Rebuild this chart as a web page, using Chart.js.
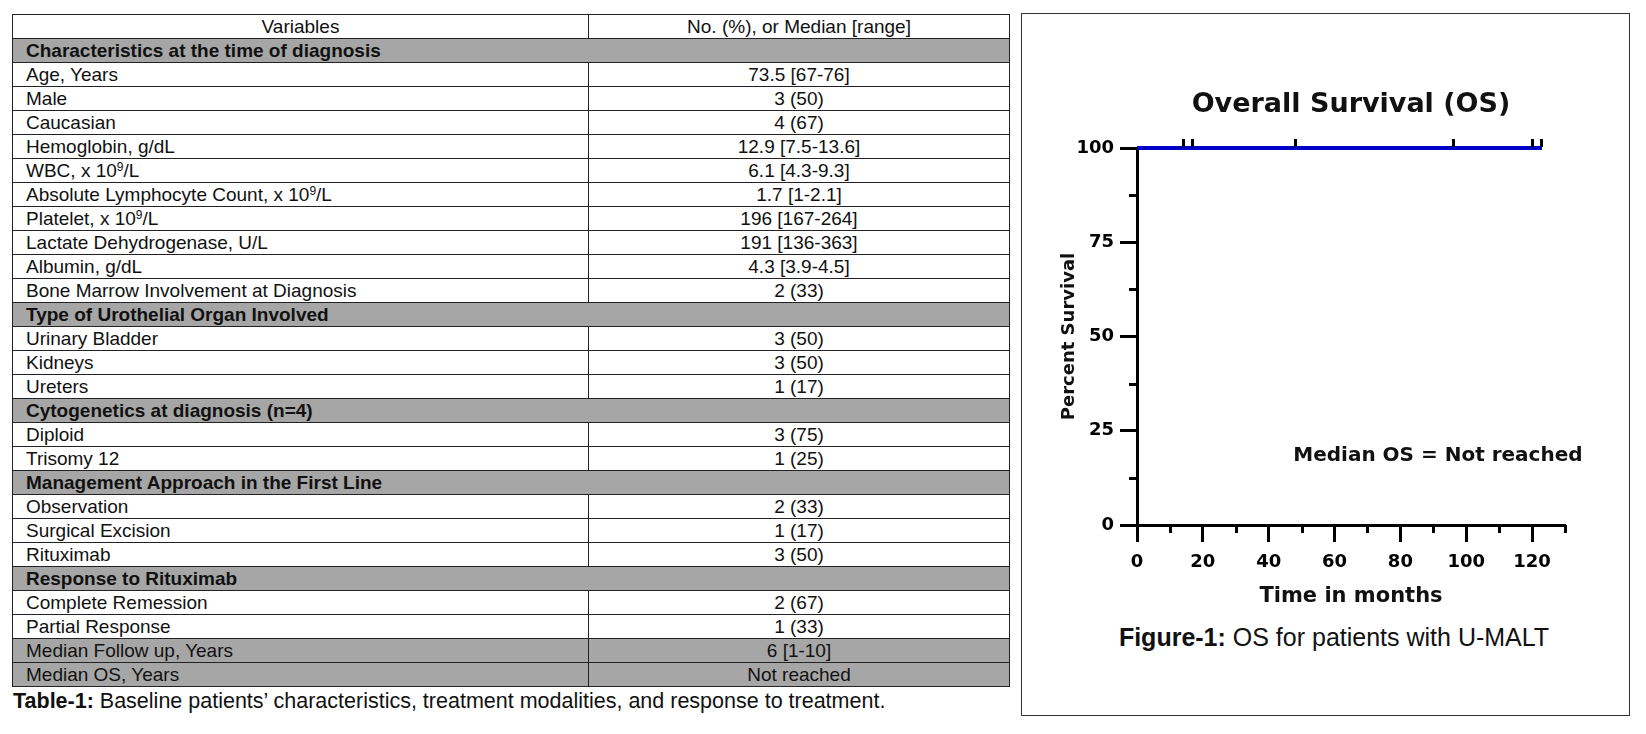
<!DOCTYPE html>
<html>
<head>
<meta charset="utf-8">
<script src="https://cdn.jsdelivr.net/npm/chart.js@4.4.0/dist/chart.umd.min.js"></script>
<style>
  body { margin: 0; background: #fff; width: 1646px; height: 734px; overflow: hidden; position: relative;
         font-family: "Liberation Sans", Arial, sans-serif; color: #111; }
  #tbl { position: absolute; left: 12px; top: 14px; width: 997px; border-collapse: collapse; table-layout: fixed; font-size: 19px; }
  #tbl td { border: 1.5px solid #222; padding: 0 0 0 13px; height: 23px; line-height: 22px; vertical-align: bottom; white-space: nowrap; overflow: hidden; }
  #tbl td.val { text-align: center; padding: 0; }
  #tbl tr.head td { text-align: center; padding: 0; }
  #tbl tr.section td, #tbl tr.summary td { background: #a6a6a6; }
  #tbl tr.section td { font-weight: bold; }
  sup { font-size: 12px; line-height: 0; vertical-align: 6px; }
  #tcap { position: absolute; left: 13px; top: 689px; font-size: 21.5px; color: #111; }
  #panel { position: absolute; left: 1021px; top: 13px; width: 609px; height: 703px; border: 1.5px solid #333; box-sizing: border-box; }
  #os { position: absolute; left: 1030px; top: 20px; }
  #fcap { position: absolute; left: 1021px; width: 626px; top: 623px; text-align: center; font-size: 25px; color: #111; }
</style>
</head>
<body>
<table id="tbl"><colgroup><col style="width:576px"><col style="width:421px"></colgroup><tbody></tbody></table>
<div id="tcap"><b>Table-1:</b> Baseline patients’ characteristics, treatment modalities, and response to treatment.</div>
<div id="panel"></div>
<canvas id="os" width="575" height="589"></canvas>
<div id="fcap"><b>Figure-1:</b> OS for patients with U-MALT</div>
<script>
// table content
const rowKinds = ['head', 'section', 'item', 'item', 'item', 'item', 'item', 'item', 'item', 'item', 'item', 'item',
  'section', 'item', 'item', 'item', 'section', 'item', 'item', 'section', 'item', 'item', 'item',
  'section', 'item', 'item', 'summary', 'summary'];
const rowLabels = ['Variables', 'Characteristics at the time of diagnosis', 'Age, Years', 'Male', 'Caucasian',
  'Hemoglobin, g/dL', 'WBC, x 10<sup>9</sup>/L', 'Absolute Lymphocyte Count, x 10<sup>9</sup>/L', 'Platelet, x 10<sup>9</sup>/L',
  'Lactate Dehydrogenase, U/L', 'Albumin, g/dL', 'Bone Marrow Involvement at Diagnosis',
  'Type of Urothelial Organ Involved', 'Urinary Bladder', 'Kidneys', 'Ureters',
  'Cytogenetics at diagnosis (n=4)', 'Diploid', 'Trisomy 12',
  'Management Approach in the First Line', 'Observation', 'Surgical Excision', 'Rituximab',
  'Response to Rituximab', 'Complete Remession', 'Partial Response',
  'Median Follow up, Years', 'Median OS, Years'];
const rowValues = ['No. (%), or Median [range]', '', '73.5 [67-76]', '3 (50)', '4 (67)',
  '12.9 [7.5-13.6]', '6.1 [4.3-9.3]', '1.7 [1-2.1]', '196 [167-264]',
  '191 [136-363]', '4.3 [3.9-4.5]', '2 (33)',
  '', '3 (50)', '3 (50)', '1 (17)',
  '', '3 (75)', '1 (25)',
  '', '2 (33)', '1 (17)', '3 (50)',
  '', '2 (67)', '1 (33)',
  '6 [1-10]', 'Not reached'];

// survival curve (months, percent)
const kmTime = [0, 14, 17, 48, 96, 120, 123];
const kmSurvival = [100, 100, 100, 100, 100, 100, 100];
const censorTime = [14, 17, 48, 96, 120, 123];
const censorSurvival = [100, 100, 100, 100, 100, 100];
const xMax = 130, xStep = 10, xLabelStep = 20;
const yMax = 100, yStep = 12.5, yLabelStep = 25;
const medianNote = 'Median OS = Not reached';

const tbody = document.querySelector('#tbl tbody');
rowKinds.forEach((kind, i) => {
  const tr = document.createElement('tr');
  tr.className = kind;
  if (kind === 'section') {
    tr.innerHTML = '<td colspan="2">' + rowLabels[i] + '</td>';
  } else {
    tr.innerHTML = '<td>' + rowLabels[i] + '</td><td class="val">' + rowValues[i] + '</td>';
  }
  tbody.appendChild(tr);
});

// little black censor tick sitting on top of the curve
function censorMark() {
  const c = document.createElement('canvas');
  c.width = 3; c.height = 18;
  const g = c.getContext('2d');
  g.fillStyle = '#000';
  g.fillRect(0, 0, 3, 8);
  return c;
}

// short minor ticks + the median note
const extras = {
  id: 'extras',
  afterDraw(chart) {
    const ctx = chart.ctx;
    const { x, y } = chart.scales;
    ctx.save();
    ctx.strokeStyle = '#000';
    ctx.lineWidth = 3;
    x.ticks.forEach(t => {
      if (t.value % xLabelStep !== 0) {
        const px = Math.round(x.getPixelForValue(t.value)) + 0.5;
        ctx.beginPath(); ctx.moveTo(px, x.top); ctx.lineTo(px, x.top + 8); ctx.stroke();
      }
    });
    y.ticks.forEach(t => {
      if (t.value % yLabelStep !== 0) {
        const py = Math.round(y.getPixelForValue(t.value)) + 0.5;
        ctx.beginPath(); ctx.moveTo(y.right - 8, py); ctx.lineTo(y.right, py); ctx.stroke();
      }
    });
    ctx.fillStyle = '#111';
    ctx.font = 'bold 20px "DejaVu Sans"';
    ctx.textAlign = 'center';
    ctx.textBaseline = 'middle';
    ctx.fillText(medianNote, x.getPixelForValue(91.4), y.getPixelForValue(18.3));
    ctx.restore();
  }
};

Chart.defaults.font.family = '"DejaVu Sans", sans-serif';
Chart.defaults.color = '#000';

window.onload = () => {
  new Chart(document.getElementById('os'), {
    type: 'line',
    data: {
      datasets: [{
        label: 'Censored',
        data: censorTime.map((t, i) => ({ x: t, y: censorSurvival[i] })),
        showLine: false,
        pointStyle: censorMark(),
        pointRadius: 4,
        clip: false,
        order: 0
      }, {
        label: 'Overall survival',
        data: kmTime.map((t, i) => ({ x: t, y: kmSurvival[i] })),
        borderColor: '#0000c8',
        borderWidth: 4,
        pointRadius: 0,
        stepped: true,
        clip: false,
        order: 1
      }]
    },
    options: {
      responsive: false,
      animation: false,
      layout: { padding: { left: 0, right: 40, top: 0, bottom: 0 } },
      plugins: {
        legend: { display: false },
        tooltip: { enabled: false },
        title: {
          display: true,
          fullSize: false,
          text: 'Overall Survival (OS)',
          color: '#111',
          font: { size: 27, weight: 'bold' },
          padding: { top: 68.8, bottom: 26.8 }
        }
      },
      scales: {
        x: {
          type: 'linear',
          min: 0,
          max: xMax,
          afterFit: s => { s.height = 84; },
          border: { display: true, color: '#000', width: 3 },
          grid: {
            drawOnChartArea: false,
            tickLength: 17,
            tickWidth: 3,
            tickColor: c => (c.tick && c.tick.value % xLabelStep === 0) ? '#000' : 'rgba(0,0,0,0)'
          },
          ticks: {
            stepSize: xStep,
            autoSkip: false,
            maxRotation: 0,
            padding: 10,
            color: '#000',
            font: { size: 18, weight: 'bold' },
            callback: v => v % xLabelStep === 0 ? v : ''
          },
          title: {
            display: true,
            text: 'Time in months',
            color: '#111',
            font: { size: 21, weight: 'bold' },
            padding: 0
          }
        },
        y: {
          min: 0,
          max: yMax,
          afterFit: s => { s.width = 107; },
          border: { display: true, color: '#000', width: 3 },
          grid: {
            drawOnChartArea: false,
            tickLength: 17,
            tickWidth: 3,
            tickColor: c => (c.tick && c.tick.value % yLabelStep === 0) ? '#000' : 'rgba(0,0,0,0)'
          },
          ticks: {
            stepSize: yStep,
            autoSkip: false,
            padding: 6,
            color: '#000',
            font: { size: 18, weight: 'bold' },
            callback: v => v % yLabelStep === 0 ? v : ''
          },
          title: {
            display: true,
            text: 'Percent Survival',
            color: '#111',
            font: { size: 18, weight: 'bold' },
            padding: { top: 28.2, bottom: 0 }
          }
        }
      }
    },
    plugins: [extras]
  });
};
</script>
</body>
</html>
